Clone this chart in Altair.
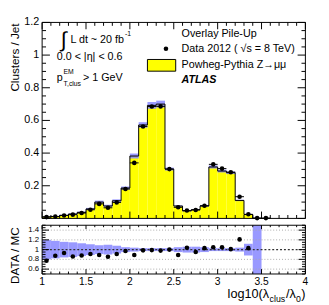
import altair as alt
import pandas as pd
import numpy as np

FONT = "Liberation Sans"

# ---------------- data ----------------
bin_lo = [1.0, 1.1, 1.2, 1.3, 1.4, 1.5, 1.6, 1.7, 1.8, 1.9,
          2.0, 2.1, 2.2, 2.3, 2.4, 2.5, 2.6, 2.7, 2.8, 2.9,
          3.0, 3.1, 3.2, 3.3, 3.4, 3.5]
bin_hi = [1.1, 1.2, 1.3, 1.4, 1.5, 1.6, 1.7, 1.8, 1.9, 2.0,
          2.1, 2.2, 2.3, 2.4, 2.5, 2.6, 2.7, 2.8, 2.9, 3.0,
          3.1, 3.2, 3.3, 3.4, 3.5, 3.6]
mc = [0.010, 0.012, 0.019, 0.027, 0.037, 0.058, 0.100, 0.076, 0.108, 0.186,
      0.382, 0.572, 0.692, 0.700, 0.302, 0.076, 0.046, 0.054, 0.076, 0.315,
      0.290, 0.280, 0.110, 0.024, 0.001, 0.0]
data = [0.008, 0.011, 0.018, 0.023, 0.033, 0.053, 0.089, 0.065, 0.098, 0.180,
        0.340, 0.563, 0.685, 0.686, 0.302, 0.068, 0.048, 0.051, 0.078, 0.331,
        0.305, 0.283, 0.133, 0.025, 0.002, 0.002]
mc_relerr = [0.20, 0.18, 0.16, 0.15, 0.13, 0.11, 0.09, 0.10, 0.08, 0.05,
             0.04, 0.03, 0.03, 0.03, 0.03, 0.05, 0.06, 0.06, 0.05, 0.03,
             0.03, 0.03, 0.04, 0.12, 0.50, 0.0]
ratio = [0.77, 0.875, 0.93, 0.86, 0.88, 0.91, 0.89, 0.855, 0.91, 0.97,
         0.89, 0.985, 0.99, 0.98, 1.00, 0.89, 1.04, 0.95, 1.03, 1.05,
         1.05, 1.01, 1.21, 1.03, None, None]

main_ylabels = ["0.2", "0.4", "0.6", "0.8", "1", "1.2"]
main_yvals = [0.2, 0.4, 0.6, 0.8, 1.0, 1.2]
ratio_ylabels = ["0.6", "0.8", "1", "1.2", "1.4"]
ratio_yvals = [0.6, 0.8, 1.0, 1.2, 1.4]
xlabels = ["1", "1.5", "2", "2.5", "3", "3.5", "4"]
xvals = [1.0, 1.5, 2.0, 2.5, 3.0, 3.5, 4.0]

# ---------------- geometry ----------------
W = 270
MAIN_H = 201
R_TOP, R_BOT = 208, 258
H = 258

XS = alt.Scale(domain=[1, 4], nice=False, zero=False)
YM = alt.Scale(domain=[0, 1.2], range=[MAIN_H, 0], nice=False, zero=False)
YR = alt.Scale(domain=[0.5, 1.5], range=[R_BOT, R_TOP], nice=False, zero=False, clamp=True)

df = pd.DataFrame({"lo": bin_lo, "hi": bin_hi, "mc": mc, "data": data,
                   "err": mc_relerr})
df["mid"] = (df["lo"] + df["hi"]) / 2
df["blo"] = df["mc"] * (1 - df["err"])
df["bhi"] = df["mc"] * (1 + df["err"])
df["rlo"] = 1 - df["err"]
df["rhi"] = 1 + df["err"]
df["ratio"] = ratio

band_df = df[df["lo"] < 3.5]

step_df = pd.DataFrame({"x": bin_lo + [bin_hi[-1]], "y": mc + [mc[-1]]})

ratio_df = df.dropna(subset=["ratio"])

def X(f):
    return alt.X(f, scale=XS, axis=None)

def YMf(f):
    return alt.Y(f, scale=YM, axis=None)

def YRf(f):
    return alt.Y(f, scale=YR, axis=None)

layers = []

# main histogram
layers.append(alt.Chart(df).mark_rect(color="#ffff00").encode(
    x=X("lo:Q"), x2="hi:Q", y=YMf("mc:Q"), y2=alt.datum(0)))
layers.append(alt.Chart(band_df).mark_rect(color="#8a8aff", opacity=0.85).encode(
    x=X("lo:Q"), x2="hi:Q", y=YMf("blo:Q"), y2="bhi:Q"))
layers.append(alt.Chart(step_df).mark_line(interpolate="step-after", color="black",
                                           strokeWidth=1).encode(
    x=X("x:Q"), y=YMf("y:Q")))
layers.append(alt.Chart(df).mark_rule(color="black", strokeWidth=1).encode(
    x=X("lo:Q"), x2="hi:Q", y=YMf("data:Q")))
layers.append(alt.Chart(df).mark_circle(color="black", size=22, opacity=1).encode(
    x=X("mid:Q"), y=YMf("data:Q")))

# ratio panel
layers.append(alt.Chart(band_df).mark_rect(color="#9999ff", opacity=1).encode(
    x=X("lo:Q"), x2="hi:Q", y=YRf("rlo:Q"), y2="rhi:Q"))
grid_df = pd.DataFrame({"y": [0.6, 0.8, 1.2, 1.4]})
layers.append(alt.Chart(grid_df).mark_rule(color="#aaaaaa", strokeDash=[1, 2],
                                           strokeWidth=1).encode(
    x=alt.value(0), x2=alt.value(W), y=YRf("y:Q")))
layers.append(alt.Chart(pd.DataFrame({"y": [1.0]})).mark_rule(
    color="#333333", strokeDash=[2, 2], strokeWidth=1.2).encode(
    x=alt.value(0), x2=alt.value(W), y=YRf("y:Q")))
layers.append(alt.Chart(ratio_df).mark_circle(color="black", size=22, opacity=1).encode(
    x=X("mid:Q"), y=YRf("ratio:Q")))

# frames
one = pd.DataFrame({"a": [0]})
for y0, y1 in [(0, MAIN_H), (R_TOP, R_BOT)]:
    layers.append(alt.Chart(one).mark_rect(filled=False, stroke="black",
                                           strokeWidth=1).encode(
        x=alt.value(0), x2=alt.value(W), y=alt.value(y0), y2=alt.value(y1)))

# ticks
xt = np.round(np.arange(1.0, 4.0001, 0.1), 2)
xt_df = pd.DataFrame({"t": xt, "major": [abs(v * 2 - round(v * 2)) < 1e-6 for v in xt]})
for (y0, L_maj, L_min) in [(MAIN_H, 7, 3.5), (0, -7, -3.5), (R_BOT, 5, 2.5), (R_TOP, -4, -2)]:
    for maj, L in [(True, L_maj), (False, L_min)]:
        sub = xt_df[xt_df["major"] == maj]
        layers.append(alt.Chart(sub).mark_rule(color="black", strokeWidth=1).encode(
            x=X("t:Q"), y=alt.value(y0), y2=alt.value(y0 - L)))

ymt = np.round(np.arange(0.0, 1.2001, 0.05), 3)
ymt_df = pd.DataFrame({"t": ymt, "major": [abs(v * 5 - round(v * 5)) < 1e-6 for v in ymt]})
yrt = np.round(np.arange(0.5, 1.5001, 0.05), 3)
yrt_df = pd.DataFrame({"t": yrt, "major": [abs(v * 5 - round(v * 5)) < 1e-6 for v in yrt]})
for tdf, yf, Lmaj, Lmin in [(ymt_df, YMf, 8, 4), (yrt_df, YRf, 7, 3.5)]:
    for maj, L in [(True, Lmaj), (False, Lmin)]:
        sub = tdf[tdf["major"] == maj]
        layers.append(alt.Chart(sub).mark_rule(color="black", strokeWidth=1).encode(
            x=alt.value(0), x2=alt.value(L), y=yf("t:Q")))
        layers.append(alt.Chart(sub).mark_rule(color="black", strokeWidth=1).encode(
            x=alt.value(W - L), x2=alt.value(W), y=yf("t:Q")))

# tick labels
layers.append(alt.Chart(pd.DataFrame({"v": main_yvals, "s": main_ylabels})).mark_text(
    align="right", baseline="middle", font=FONT, fontSize=11, color="black").encode(
    x=alt.value(-3), y=YMf("v:Q"), text="s:N"))
layers.append(alt.Chart(pd.DataFrame({"v": ratio_yvals, "s": ratio_ylabels})).mark_text(
    align="right", baseline="middle", font=FONT, fontSize=8, color="black").encode(
    x=alt.value(-3), y=YRf("v:Q"), text="s:N"))
layers.append(alt.Chart(pd.DataFrame({"v": xvals, "s": xlabels})).mark_text(
    align="center", baseline="top", font=FONT, fontSize=10.5, color="black").encode(
    x=X("v:Q"), y=alt.value(R_BOT + 3), text="s:N"))


def txt(s, x, y, size=11, align="left", baseline="middle", angle=0, **kw):
    return alt.Chart(pd.DataFrame({"t": [s]})).mark_text(
        align=align, baseline=baseline, font=FONT, fontSize=size, angle=angle,
        color="black", **kw).encode(x=alt.value(x), y=alt.value(y), text="t:N")

# axis titles
layers.append(txt("Clusters / Jet", -28, 1, size=12, align="right", angle=270))
layers.append(txt("DATA / MC", -28, R_TOP + 2, size=12, align="right", angle=270))
# x title, composed right to left so the pieces never overlap
TY = 279
xr = W
layers.append(txt(")", xr, TY, size=13, align="right"))
xr -= 4.5
layers.append(txt("0", xr, TY + 5, size=9, align="right"))
xr -= 5.2
layers.append(txt("/λ", xr, TY, size=13, align="right"))
xr -= 11
layers.append(txt("clus", xr, TY + 5, size=9, align="right"))
xr -= 16.5
layers.append(txt("log10(λ", xr, TY, size=13, align="right"))

# left annotations
layers.append(txt("∫", 19, 18, size=22))
layers.append(txt("L dt ~ 20 fb", 29, 18, size=11))
layers.append(txt("-1", 85, 12, size=7))
layers.append(txt("0.0 < |η| < 0.6", 15, 36, size=11))
layers.append(txt("p", 15, 57, size=11))
layers.append(txt("EM", 22, 51, size=7))
layers.append(txt("T,clus", 22, 63, size=7))
layers.append(txt("> 1 GeV", 42, 57, size=11))

# legend
layers.append(txt("Overlay Pile-Up", 143, 12, size=11))
layers.append(alt.Chart(one).mark_circle(color="black", size=22, opacity=1).encode(
    x=alt.value(127), y=alt.value(27)))
layers.append(txt("Data 2012 ( √s = 8 TeV)", 143, 27, size=11))
layers.append(alt.Chart(one).mark_rect(fill="#ffff00", stroke="black", strokeWidth=1).encode(
    x=alt.value(108), x2=alt.value(137), y=alt.value(38), y2=alt.value(50)))
layers.append(txt("Powheg-Pythia Z→μμ", 143, 44, size=11))
layers.append(txt("ATLAS", 143, 59, size=11, fontWeight="bold", fontStyle="italic"))

chart = alt.layer(*layers).resolve_scale(y="independent").properties(
    width=W, height=H,
    autosize=alt.AutoSizeParams(type="none"),
    padding={"left": 35, "top": 11, "right": 16, "bottom": 28},
).configure_view(stroke=None)

chart.save("out.html", embed_options={"renderer": "svg", "actions": False})
